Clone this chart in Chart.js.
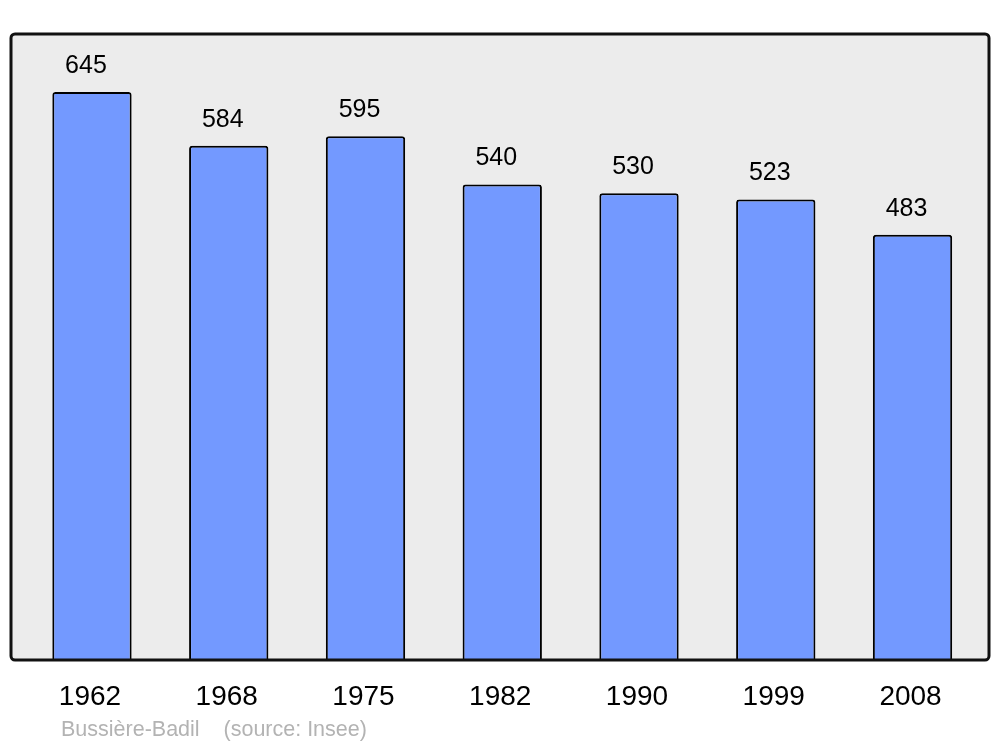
<!DOCTYPE html>
<html><head><meta charset="utf-8">
<script src="https://cdn.jsdelivr.net/npm/chart.js@4.4.1/dist/chart.umd.min.js"></script>
<style>html,body{margin:0;padding:0;background:#fff}canvas{display:block}</style>
</head><body>
<canvas id="c" width="1000" height="747"></canvas>
<script>
const years = ["1962","1968","1975","1982","1990","1999","2008"];
const population = [645,584,595,540,530,523,483];
const sourceText = "Bussière-Badil    (source: Insee)";
const yMax = 711;

const frame = {left: 11, top: 34, right: 989, bottom: 660, radius: 4};

const framePlugin = {
  id: 'frame',
  beforeDatasetsDraw(chart) {
    const ctx = chart.ctx;
    ctx.save();
    ctx.beginPath();
    ctx.roundRect(frame.left, frame.top, frame.right - frame.left, frame.bottom - frame.top, frame.radius);
    ctx.fillStyle = '#ececec';
    ctx.fill();
    ctx.restore();
  },
  afterDatasetsDraw(chart) {
    const ctx = chart.ctx;
    ctx.save();
    const meta = chart.getDatasetMeta(0);
    ctx.font = '25px "Liberation Sans", Arial, sans-serif';
    ctx.fillStyle = '#000';
    ctx.textAlign = 'center';
    ctx.textBaseline = 'middle';
    meta.data.forEach((bar, i) => {
      ctx.fillText(String(population[i]), bar.x - 6, bar.y - 26);
    });
    ctx.beginPath();
    ctx.roundRect(frame.left, frame.top, frame.right - frame.left, frame.bottom - frame.top, frame.radius);
    ctx.lineWidth = 3;
    ctx.strokeStyle = '#111';
    ctx.stroke();
    ctx.font = '21.5px "Liberation Sans", Arial, sans-serif';
    ctx.fillStyle = '#b3b3b3';
    ctx.textAlign = 'left';
    ctx.fillText(sourceText, 61, 730);
    ctx.restore();
  }
};

new Chart(document.getElementById('c'), {
  type: 'bar',
  data: {
    labels: years,
    datasets: [{
      data: population,
      backgroundColor: '#7399ff',
      borderColor: '#000',
      borderWidth: 2,
      borderRadius: {topLeft: 3, topRight: 3},
      borderSkipped: 'bottom',
      barPercentage: 0.58,
      categoryPercentage: 1
    }]
  },
  options: {
    responsive: false,
    animation: false,
    layout: {padding: {left: 23.6, right: 19.1, top: 34, bottom: 0}},
    plugins: {legend: {display: false}, tooltip: {enabled: false}, title: {display: false}},
    scales: {
      x: {
        offset: true,
        grid: {display: false, drawTicks: false},
        border: {display: false},
        ticks: {color: '#000', font: {family: '"Liberation Sans", Arial, sans-serif', size: 28}, padding: 20, maxRotation: 0, labelOffset: -2},
        afterFit(s) { s.height = 87; }
      },
      y: {
        display: false,
        min: 0,
        max: yMax
      }
    }
  },
  plugins: [framePlugin]
});
</script>
</body></html>
